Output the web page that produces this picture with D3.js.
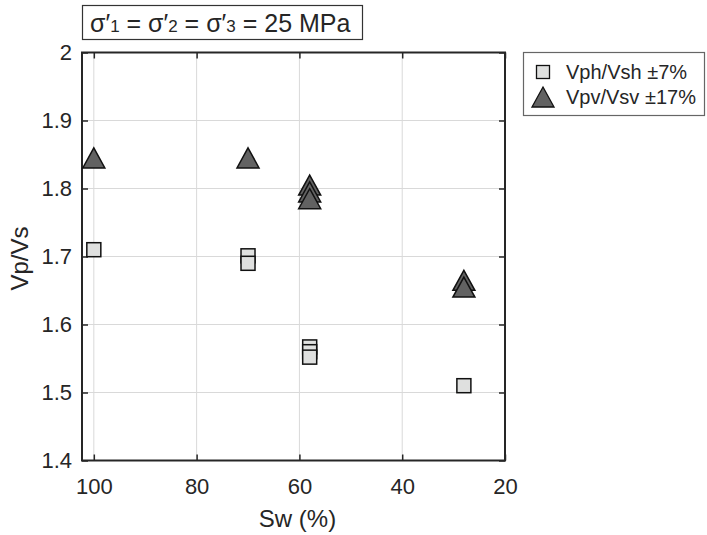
<!DOCTYPE html>
<html>
<head>
<meta charset="utf-8">
<script src="https://cdn.jsdelivr.net/npm/d3@7/dist/d3.min.js"></script>
<style>
  html, body { margin: 0; padding: 0; background: #fff; }
  svg { display: block; font-family: "Liberation Sans", Arial, Helvetica, sans-serif; }
</style>
</head>
<body>
<svg id="chart" width="707" height="535"></svg>
<script>
// Water saturation (%) and Vp/Vs ratios under isotropic 25 MPa effective stress
const swH = [100, 70, 70, 58, 58, 58, 28];
const ratioH = [1.71, 1.701, 1.69, 1.567, 1.56, 1.552, 1.51];
const swV = [100, 70, 58, 58, 58, 28, 28];
const ratioV = [1.845, 1.845, 1.805, 1.795, 1.785, 1.665, 1.655];

const xTicks = [100, 80, 60, 40, 20];
const yTicks = [1.4, 1.5, 1.6, 1.7, 1.8, 1.9, 2];
const seriesNames = ["Vph/Vsh \u00b17%", "Vpv/Vsv \u00b117%"];

const svg = d3.select("#chart");
const plot = { left: 82, right: 505, top: 52.5, bottom: 460.5 };

const x = d3.scaleLinear().domain([102.3, 20]).range([plot.left, plot.right]);
const y = d3.scaleLinear().domain([1.4, 2]).range([plot.bottom, plot.top]);

const axisColor = "#262626";
const gridColor = "#d9d9d9";
const squareFill = "#dfe0df";
const triFill = "#626262";

// grid
const grid = svg.append("g");
grid.selectAll("line.gx").data(xTicks.filter(d => d > 20)).enter().append("line")
  .attr("x1", d => x(d)).attr("x2", d => x(d))
  .attr("y1", plot.top).attr("y2", plot.bottom)
  .attr("stroke", gridColor).attr("stroke-width", 1);
grid.selectAll("line.gy").data(yTicks.filter(d => d > 1.4 && d < 2)).enter().append("line")
  .attr("y1", d => y(d)).attr("y2", d => y(d))
  .attr("x1", plot.left).attr("x2", plot.right)
  .attr("stroke", gridColor).attr("stroke-width", 1);

// axes with inward ticks on all four sides
function styleAxis(g) {
  g.select(".domain").remove();
  g.selectAll(".tick line").attr("stroke", axisColor).attr("stroke-width", 1.5);
  g.selectAll(".tick text").attr("fill", axisColor).attr("font-size", 22)
    .attr("font-family", "Liberation Sans, Arial, sans-serif");
}
const fmtY = d => (d === 2 ? "2" : d3.format(".1f")(d));

svg.append("g").attr("transform", `translate(0,${plot.bottom})`)
  .call(d3.axisBottom(x).tickValues(xTicks).tickSize(-6).tickPadding(18).tickFormat(d3.format("d")))
  .call(styleAxis);
svg.append("g").attr("transform", `translate(0,${plot.top})`)
  .call(d3.axisTop(x).tickValues(xTicks).tickSize(-6).tickFormat(""))
  .call(styleAxis);
svg.append("g").attr("transform", `translate(${plot.left},0)`)
  .call(d3.axisLeft(y).tickValues(yTicks).tickSize(-6).tickPadding(10).tickFormat(fmtY))
  .call(styleAxis);
svg.append("g").attr("transform", `translate(${plot.right},0)`)
  .call(d3.axisRight(y).tickValues(yTicks).tickSize(-6).tickFormat(""))
  .call(styleAxis);

// axes box
svg.append("rect")
  .attr("x", plot.left).attr("y", plot.top)
  .attr("width", plot.right - plot.left).attr("height", plot.bottom - plot.top)
  .attr("fill", "none").attr("stroke", axisColor).attr("stroke-width", 2);

// markers
const sq = 14;
const triW = 22, triH = 20;
const triPath = `M0,${-triH / 2}L${triW / 2},${triH / 2}L${-triW / 2},${triH / 2}Z`;

const pointsH = swH.map((s, i) => ({ s, r: ratioH[i] }));
const pointsV = swV.map((s, i) => ({ s, r: ratioV[i] }));

svg.append("g").selectAll("rect").data(pointsH).enter().append("rect")
  .attr("x", d => x(d.s) - sq / 2).attr("y", d => y(d.r) - sq / 2)
  .attr("width", sq).attr("height", sq)
  .attr("fill", squareFill).attr("stroke", "#111").attr("stroke-width", 1.5);

svg.append("g").selectAll("path").data(pointsV).enter().append("path")
  .attr("d", triPath)
  .attr("transform", d => `translate(${x(d.s)},${y(d.r)})`)
  .attr("fill", triFill).attr("stroke", "#111").attr("stroke-width", 1.5);

// axis labels
svg.append("text").attr("x", (plot.left + plot.right) / 2 + 4).attr("y", 527)
  .attr("text-anchor", "middle").attr("font-size", 24).attr("fill", axisColor)
  .text("Sw (%)");
svg.append("text").attr("transform", `translate(28,${(plot.top + plot.bottom) / 2 + 2}) rotate(-90)`)
  .attr("text-anchor", "middle").attr("font-size", 24).attr("fill", axisColor)
  .text("Vp/Vs");

// stress condition box
svg.append("rect").attr("x", 82.5).attr("y", 5.5).attr("width", 280).attr("height", 34)
  .attr("fill", "#fff").attr("stroke", "#333").attr("stroke-width", 1.2);
const title = svg.append("text").attr("x", 90).attr("y", 32)
  .attr("font-size", 25).attr("fill", axisColor);
[["\u03c3\u2032", false], ["1", true], [" = \u03c3\u2032", false], ["2", true],
 [" = \u03c3\u2032", false], ["3", true], [" = 25 MPa", false]].forEach(([t, sub]) => {
  title.append("tspan").attr("font-size", sub ? 17 : 25).text(t);
});

// legend
const lg = svg.append("g");
lg.append("rect").attr("x", 523.5).attr("y", 52.5).attr("width", 181).attr("height", 63)
  .attr("fill", "#fff").attr("stroke", "#666").attr("stroke-width", 1.2);
lg.append("rect").attr("x", 543 - 6.5).attr("y", 72 - 6.5).attr("width", 13).attr("height", 13)
  .attr("fill", squareFill).attr("stroke", "#111").attr("stroke-width", 1.3);
lg.append("path").attr("d", triPath).attr("transform", "translate(543,97)")
  .attr("fill", triFill).attr("stroke", "#111").attr("stroke-width", 1.3);
lg.selectAll("text").data(seriesNames).enter().append("text")
  .attr("x", 566).attr("y", (d, i) => 79 + i * 25)
  .attr("font-size", 20).attr("fill", axisColor).text(d => d);
</script>
</body>
</html>
